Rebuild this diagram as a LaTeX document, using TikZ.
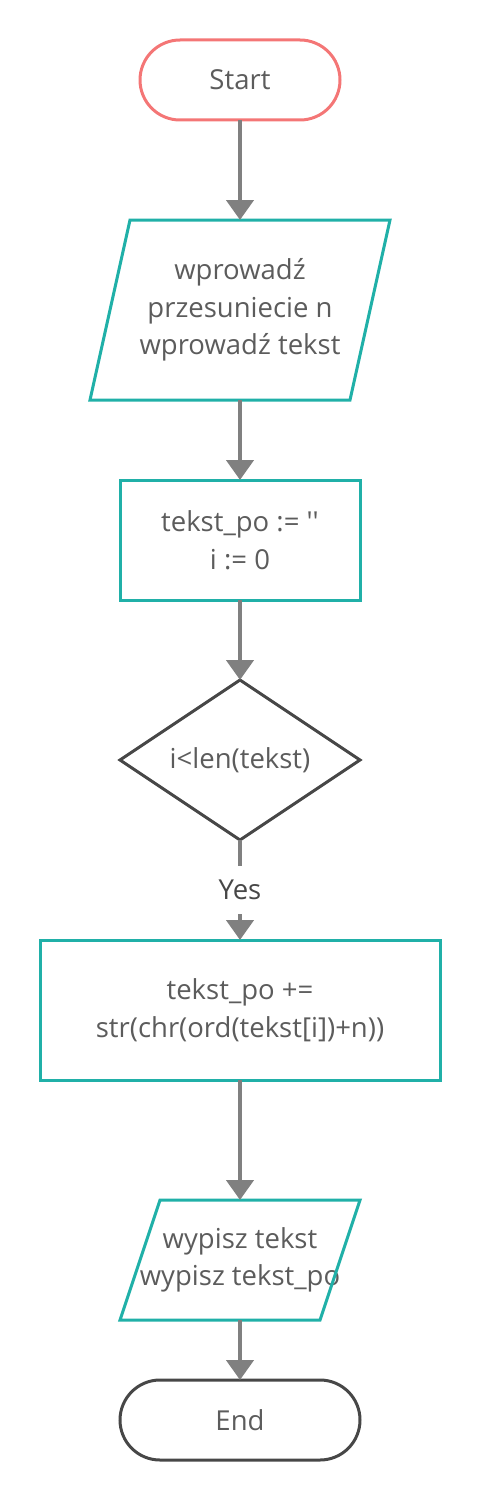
\documentclass[tikz,border=0pt]{standalone}
\usepackage{fontspec}
\setmainfont{Open Sans}[Ligatures=TeXOff]
\usetikzlibrary{arrows.meta,shapes.geometric}
\definecolor{tealc}{HTML}{20B0A8}
\definecolor{redc}{HTML}{F47676}
\definecolor{arrc}{HTML}{808080}
\definecolor{darkc}{HTML}{474747}
\definecolor{txtc}{HTML}{5C5C5C}
\tikzset{
  base/.style={outer sep=0pt, inner sep=0pt, text=txtc, align=center,
    font=\fontsize{27.5}{37.5}\selectfont},
  terminal/.style={base, draw, line width=3pt, rounded corners=40pt,
    minimum height=80pt},
  procbox/.style={base, draw=tealc, line width=3pt},
  iobox/.style={base},
  decbox/.style={base, draw=darkc, line width=3pt, diamond, aspect=1.5,
    minimum width=240pt, minimum height=160pt},
  flow/.style={draw=arrc, line width=4.5pt,
    -{Triangle[width=27pt,length=20pt]}},
  iopath/.style={draw=tealc, line width=3pt, line join=miter},
}
\begin{document}
\begin{tikzpicture}[x=1pt,y=-1pt]
\useasboundingbox (0,0) rectangle (481,1501);
\node[terminal, draw=redc, minimum width=200pt] (start) at (240,80) {Start};
\node[iobox, minimum width=300pt, minimum height=180pt] (in) at (240,310)
  {wprowadź\\przesuniecie n\\wprowadź tekst};
\path[iopath] ([xshift=40pt]in.north west) -- (in.north east)
  -- ([xshift=-40pt]in.south east) -- (in.south west) -- cycle;
\node[procbox, minimum width=240pt, minimum height=120pt] (init) at (240,540)
  {tekst\_po := \char"27\char"27\\i := 0};
\node[decbox] (cond) at (240,760) {i<len(tekst)};
\node[procbox, minimum width=400pt, minimum height=140pt] (body) at (240,1010)
  {tekst\_po +=\\str(chr(ord(tekst[i])+n))};
\node[iobox, minimum width=240pt, minimum height=120pt] (out) at (240,1260)
  {wypisz tekst\\wypisz tekst\_po};
\path[iopath] ([xshift=40pt]out.north west) -- (out.north east)
  -- ([xshift=-40pt]out.south east) -- (out.south west) -- cycle;
\node[terminal, draw=darkc, minimum width=240pt] (end) at (240,1420) {End};
\draw[flow] (start) -- (in);
\draw[flow] (in) -- (init);
\draw[flow] (init) -- (cond);
\draw[flow] (cond) -- node[fill=white, text=darkc, inner sep=0pt,
  minimum height=48pt, minimum width=60pt,
  font=\fontsize{27.5}{30}\selectfont] (yes) {Yes} (body);
\draw[flow] (body) -- (out);
\draw[flow] (out) -- (end);
\end{tikzpicture}
\end{document}
